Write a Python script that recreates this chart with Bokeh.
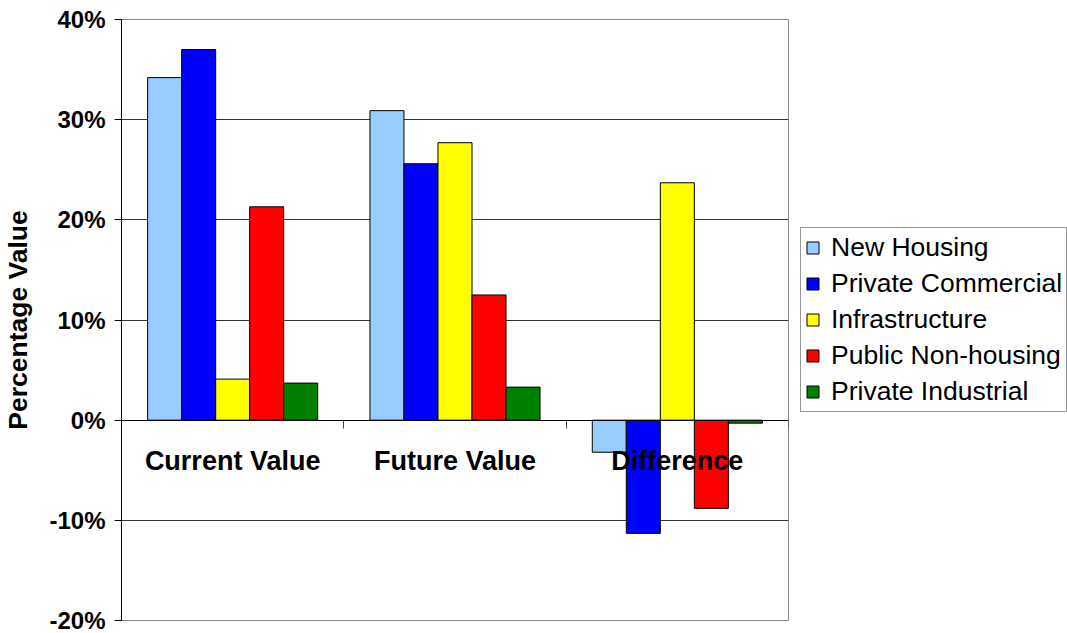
from bokeh.plotting import figure
from bokeh.models import (ColumnDataSource, Range1d, Legend, LegendItem,
                          LinearAxis, FixedTicker, PrintfTickFormatter)
from bokeh.transform import dodge
from bokeh.embed import file_html
from bokeh.resources import INLINE

categories = ["Current Value", "Future Value", "Difference"]
series_names = ["New Housing", "Private Commercial", "Infrastructure",
                "Public Non-housing", "Private Industrial"]
new_housing = [34.2, 30.9, -3.2]
private_commercial = [37.0, 25.6, -11.3]
infrastructure = [4.1, 27.7, 23.7]
public_non_housing = [21.3, 12.5, -8.8]
private_industrial = [3.7, 3.3, -0.3]
colors = ["#99CCFF", "#0000FF", "#FFFF00", "#FF0000", "#008000"]
y_ticks = [-20, -10, 0, 10, 20, 30, 40]

series = [new_housing, private_commercial, infrastructure, public_non_housing, private_industrial]
keys = ["s%d" % i for i in range(len(series))]
centers = [i + 0.5 for i in range(len(categories))]
data = {"cat": categories, "xc": centers}
for k, s in zip(keys, series):
    data[k] = s
source = ColumnDataSource(data)

p = figure(x_range=Range1d(0, len(categories)),
           y_range=Range1d(y_ticks[0], y_ticks[-1]),
           frame_width=667, frame_height=601,
           output_backend="svg", toolbar_location=None,
           min_border_left=120, min_border_top=19, min_border_bottom=13, min_border_right=0,
           background_fill_color="white", border_fill_color="white")

bar_w = 0.153
n = len(series)
items = []
for i, (k, name, c) in enumerate(zip(keys, series_names, colors)):
    off = (i - (n - 1) / 2) * bar_w
    r = p.vbar(x=dodge("xc", off), top=k, bottom=0, width=bar_w,
               source=source, fill_color=c, line_color="black", line_width=1)
    items.append(LegendItem(label=name, renderers=[r]))

# y axis
p.yaxis.ticker = FixedTicker(ticks=y_ticks)
p.yaxis.formatter = PrintfTickFormatter(format="%d%%")
p.yaxis.major_label_text_font = "Liberation Sans"
p.yaxis.major_label_text_font_style = "bold"
p.yaxis.major_label_text_font_size = "24px"
p.yaxis.major_label_text_color = "black"
p.yaxis.major_tick_in = 0
p.yaxis.major_tick_out = 7
p.yaxis.minor_tick_line_color = None
p.yaxis.axis_line_color = "black"
p.yaxis.major_tick_line_color = "black"
p.yaxis.major_label_standoff = 9
p.yaxis.axis_label = "Percentage Value"
p.yaxis.axis_label_text_font = "Liberation Sans"
p.yaxis.axis_label_text_font_style = "bold"
p.yaxis.axis_label_text_font_size = "26.5px"
p.yaxis.axis_label_text_color = "black"
p.yaxis.axis_label_standoff = 13

# x axis at zero: boundary ticks, no labels
p.xaxis.fixed_location = 0
p.xaxis.ticker = FixedTicker(ticks=list(range(len(categories) + 1)))
p.xaxis.major_label_text_font_size = "0px"
p.xaxis.major_label_text_alpha = 0
p.xaxis.major_tick_in = 0
p.xaxis.major_tick_out = 8
p.xaxis.major_tick_line_color = "#444444"
p.xaxis.minor_tick_line_color = None
p.xaxis.axis_line_color = "black"

# category labels axis
lax = LinearAxis(fixed_location=0, ticker=FixedTicker(ticks=centers),
                 major_label_overrides={c: t for c, t in zip(centers, categories)},
                 major_tick_line_color=None, minor_tick_line_color=None, axis_line_color=None,
                 major_label_standoff=20,
                 major_label_text_font="Liberation Sans",
                 major_label_text_font_style="bold",
                 major_label_text_font_size="27px",
                 major_label_text_color="black")
p.add_layout(lax, "below")

p.xgrid.grid_line_color = None
p.ygrid.ticker = FixedTicker(ticks=y_ticks)
p.ygrid.grid_line_color = "#333333"
p.ygrid.grid_line_width = 1
p.outline_line_color = "#888888"

legend = Legend(items=items, location=(12, 208))
legend.label_text_font = "Liberation Sans"
legend.label_text_font_size = "26.5px"
legend.label_text_color = "black"
legend.label_height = 30
legend.glyph_width = 15
legend.glyph_height = 15
legend.label_standoff = 11
legend.spacing = 5
legend.padding = 4
legend.margin = 0
legend.border_line_color = "#333333"
legend.border_line_width = 1
legend.background_fill_color = "white"
p.add_layout(legend, "right")

open("out.html", "w").write(file_html(p, INLINE))
